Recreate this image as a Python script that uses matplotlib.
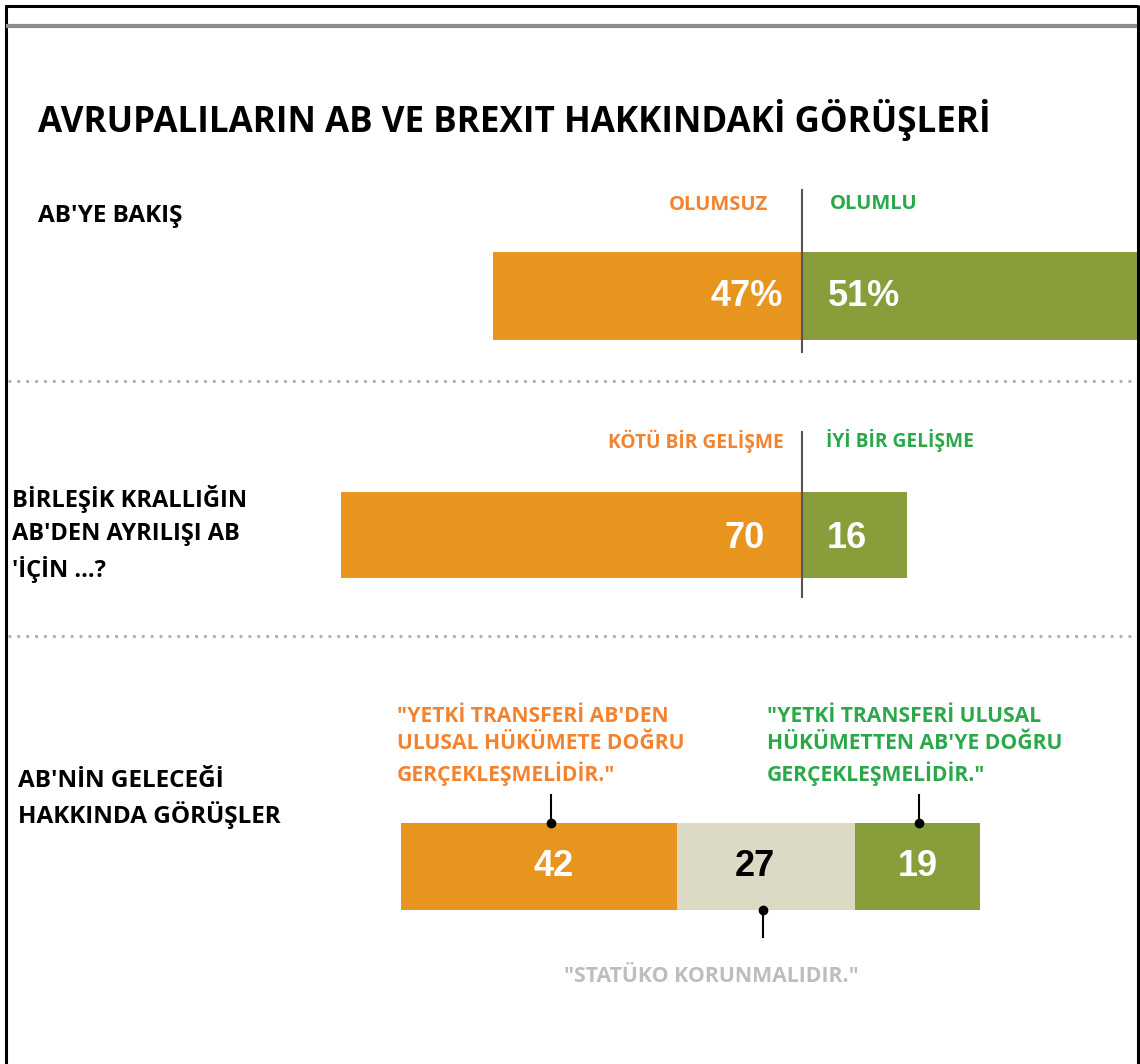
import matplotlib
matplotlib.use("Agg")
import matplotlib.pyplot as plt
import numpy as np

# data
title = "AVRUPALILARIN AB VE BREXIT HAKKINDAKİ GÖRÜŞLERİ"

row1_label = "AB'YE BAKIŞ"
row1_cats = ["OLUMSUZ", "OLUMLU"]
row1_vals = [47, 51]
row1_text = ["47%", "51%"]

row2_label = "BİRLEŞİK KRALLIĞIN\nAB'DEN AYRILIŞI AB\n'İÇİN ...?"
row2_cats = ["KÖTÜ BİR GELİŞME", "İYİ BİR GELİŞME"]
row2_vals = [70, 16]

row3_label = "AB'NİN GELECEĞİ\nHAKKINDA GÖRÜŞLER"
row3_cats = ['"YETKİ TRANSFERİ AB\'DEN\nULUSAL HÜKÜMETE DOĞRU\nGERÇEKLEŞMELİDİR."',
             '"STATÜKO KORUNMALIDIR."',
             '"YETKİ TRANSFERİ ULUSAL\nHÜKÜMETTEN AB\'YE DOĞRU\nGERÇEKLEŞMELİDİR."']
row3_vals = [42, 27, 19]

ORANGE = "#E8951F"
GREEN = "#889E3B"
BEIGE = "#DCDAC5"
ORANGE_TXT = "#F4832F"
GREEN_TXT = "#2BA84A"

W, H = 1140, 1064
PX = 6.58          # pixels per percentage point
ZERO = 802         # pixel x of the zero line


def X(px):
    return (px - ZERO) / PX


fig = plt.figure(figsize=(W / 100, H / 100), dpi=100)
ax = fig.add_axes([0, 0, 1, 1])
ax.set_xlim(X(0), X(W))
ax.set_ylim(H, 0)
ax.axis("off")

sans = "Open Sans"
num = "Liberation Sans"
NUM_FS = 26

# frame and top rule
ax.plot([X(6), X(6)], [H, 5], color="black", lw=2.2, solid_capstyle="butt")
ax.plot([X(5), X(1138)], [5.5, 5.5], color="black", lw=2.2, solid_capstyle="butt")
ax.plot([X(1138), X(1138)], [5, H], color="black", lw=2.2, solid_capstyle="butt")
ax.plot([X(8), X(1135)], [26, 26], color="#8C8C8C", lw=3)

ax.text(X(38), 120, title, fontsize=25.2, fontweight="bold", family=sans,
        ha="left", va="center", color="black")

# row 1
ax.text(X(38), 216, row1_label, fontsize=17.5, fontweight="bold", family=sans,
        ha="left", va="center")
ax.text(X(768), 205, row1_cats[0], fontsize=14.5, fontweight="bold", family=sans,
        color=ORANGE_TXT, ha="right", va="center")
ax.text(X(830), 204, row1_cats[1], fontsize=14.5, fontweight="bold", family=sans,
        color=GREEN_TXT, ha="left", va="center")
ax.barh(296, -row1_vals[0], height=88, left=0, color=ORANGE)
ax.barh(296, row1_vals[1], height=88, left=0, color=GREEN)
ax.plot([0, 0], [190, 352], color="#555555", lw=1.5)
ax.text(X(783), 296, row1_text[0], fontsize=NUM_FS, fontweight="bold", family=num,
        color="white", ha="right", va="center")
ax.text(X(828), 296, row1_text[1], fontsize=NUM_FS, fontweight="bold", family=num,
        color="white", ha="left", va="center")

ax.plot([X(8), X(1135)], [381, 381], color="#AAAAAA", lw=2, ls=(0, (1, 2.2)))

# row 2
ax.text(X(12), 534, row2_label, fontsize=17, fontweight="bold", family=sans,
        ha="left", va="center", linespacing=1.5)
ax.text(X(784), 441, row2_cats[0], fontsize=13.8, fontweight="bold", family=sans,
        color=ORANGE_TXT, ha="right", va="center")
ax.text(X(826), 441, row2_cats[1], fontsize=13.8, fontweight="bold", family=sans,
        color=GREEN_TXT, ha="left", va="center")
ax.barh(535, -row2_vals[0], height=86, left=0, color=ORANGE)
ax.barh(535, row2_vals[1], height=86, left=0, color=GREEN)
ax.plot([0, 0], [432, 597], color="#555555", lw=1.5)
ax.text(X(765), 538, str(row2_vals[0]), fontsize=NUM_FS, fontweight="bold", family=num,
        color="white", ha="right", va="center")
ax.text(X(827), 538, str(row2_vals[1]), fontsize=NUM_FS, fontweight="bold", family=num,
        color="white", ha="left", va="center")

ax.plot([X(8), X(1135)], [636, 636], color="#AAAAAA", lw=2, ls=(0, (1, 2.2)))

# row 3
ax.text(X(18), 799, row3_label, fontsize=17.5, fontweight="bold", family=sans,
        ha="left", va="center", linespacing=1.4)
start = X(401)
lefts = start + np.concatenate([[0], np.cumsum(row3_vals)[:-1]])
colors3 = [ORANGE, BEIGE, GREEN]
ax.barh([866] * 3, row3_vals, height=87, left=lefts, color=colors3)
num_colors = ["white", "black", "white"]
num_x = [554, 755, 918]
for v, c, xp in zip(row3_vals, num_colors, num_x):
    ax.text(X(xp), 866, str(v), fontsize=NUM_FS, fontweight="bold", family=num,
            color=c, ha="center", va="center")

ax.text(X(397), 746, row3_cats[0], fontsize=15.2, fontweight="bold", family=sans,
        color=ORANGE_TXT, ha="left", va="center", linespacing=1.38)
ax.text(X(767), 746, row3_cats[2], fontsize=15.2, fontweight="bold", family=sans,
        color=GREEN_TXT, ha="left", va="center", linespacing=1.38)
ax.text(X(711), 976, row3_cats[1], fontsize=15.3, fontweight="bold", family=sans,
        color="#BDBDBD", ha="center", va="center")

# connectors
for xp, y0, y1, yd in [(551, 795, 823, 823), (919, 795, 823, 823), (763, 910, 937, 910)]:
    ax.plot([X(xp), X(xp)], [y0, y1], color="black", lw=1.5)
    ax.plot(X(xp), yd, "o", color="black", ms=6)

fig.savefig("out.png", dpi=100)
